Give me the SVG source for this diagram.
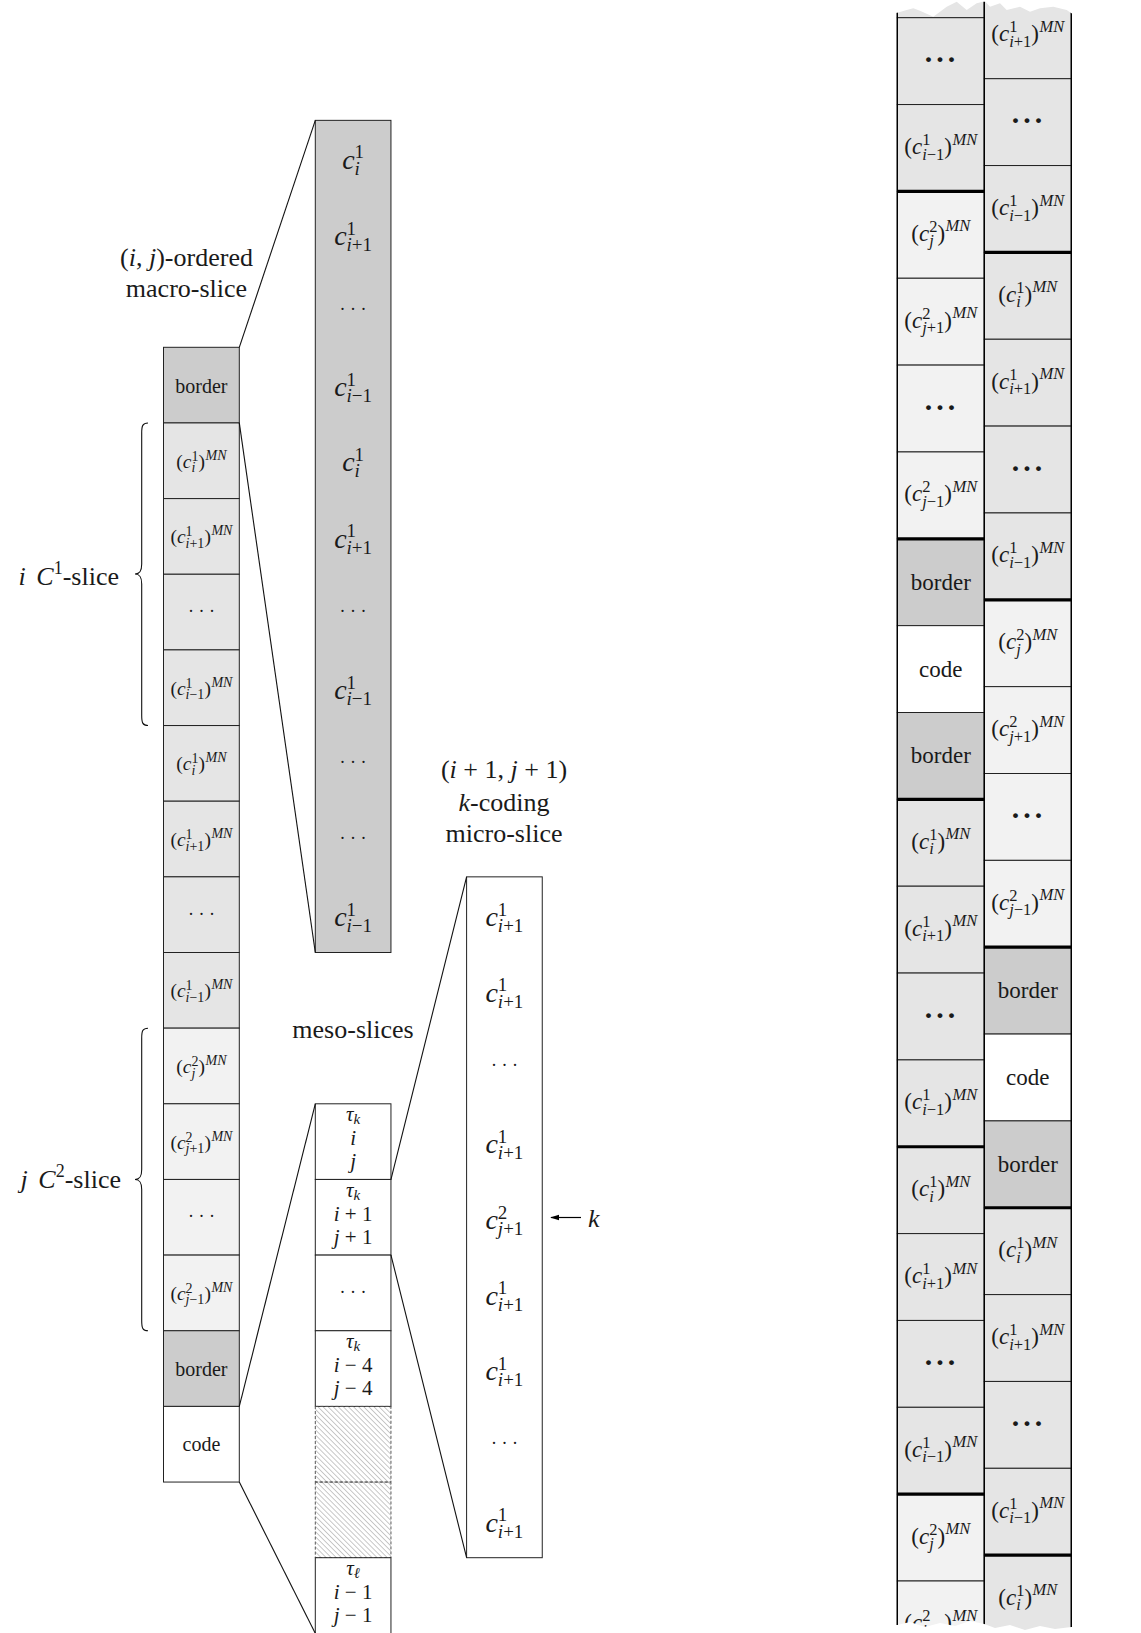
<svg xmlns="http://www.w3.org/2000/svg" width="1141" height="1633" viewBox="0 0 1141 1633">
<defs>
<style>
.t{font-family:"Liberation Serif","DejaVu Serif",serif;fill:#1a1a1a}
.m{text-anchor:middle}
.i{font-style:italic}
.f14{font-size:14px}.f15{font-size:15px}.f16{font-size:16.5px}.f18{font-size:18px}.f19{font-size:19.5px}.f20{font-size:20px}.f21{font-size:21px}.f23{font-size:23px}.f26{font-size:26px}.f27{font-size:28px}.fs{font-size:19px}
.cell{stroke:#222;stroke-width:1}
.g80{fill:#cccccc}.g90{fill:#e5e5e5}.g95{fill:#f2f2f2}.w{fill:#ffffff}
.conn{stroke:#111;stroke-width:1.1;fill:none}
.thick{stroke:#000;stroke-width:3.2}
.bd{font-weight:bold;font-size:30px;letter-spacing:1.5px}
</style>
<pattern id="hatch" patternUnits="userSpaceOnUse" width="3.6" height="3.6" patternTransform="rotate(-45)">
<line x1="0" y1="-1" x2="0" y2="5" stroke="#777" stroke-width="0.8"/>
</pattern>
<marker id="ah" viewBox="0 0 10 10" refX="9" refY="5" markerWidth="9" markerHeight="9" orient="auto" markerUnits="userSpaceOnUse">
<path d="M0,2 L10,5 L0,8 z" fill="#000"/>
</marker>
</defs>
<rect width="1141" height="1633" fill="#fff"/>

<!-- Left column (macro-slice sequence) -->
<g id="left-column">
<g id="lc-border-top"><rect class="cell g80" x="163.5" y="347.3" width="75.8" height="75.65"/><text class="t m f20" x="201.4" y="392.6">border</text></g>
<g id="lc-1"><rect class="cell g90" x="163.5" y="422.95" width="75.8" height="75.65"/><text class="t m f19" x="201.4" y="467.8">(<tspan class="i">c</tspan><tspan class="f14" dy="-7">1</tspan><tspan class="f14 i" dx="-7" dy="11.5">i</tspan><tspan dx="3.1" dy="-4.5">)</tspan><tspan class="f14 i" dx="0.5" dy="-8">MN</tspan></text></g>
<g id="lc-2"><rect class="cell g90" x="163.5" y="498.6" width="75.8" height="75.65"/><text class="t m f19" x="201.4" y="543.4">(<tspan class="i">c</tspan><tspan class="f14" dy="-7">1</tspan><tspan class="f14" dx="-7" dy="11.5"><tspan class="i">i</tspan>+1</tspan><tspan dy="-4.5">)</tspan><tspan class="f14 i" dx="0.5" dy="-8">MN</tspan></text></g>
<g id="lc-3"><rect class="cell g90" x="163.5" y="574.25" width="75.8" height="75.65"/><text class="t m f18" x="201.4" y="617">· · ·</text></g>
<g id="lc-4"><rect class="cell g90" x="163.5" y="649.9" width="75.8" height="75.65"/><text class="t m f19" x="201.4" y="694.7">(<tspan class="i">c</tspan><tspan class="f14" dy="-7">1</tspan><tspan class="f14" dx="-7" dy="11.5"><tspan class="i">i</tspan>−1</tspan><tspan dy="-4.5">)</tspan><tspan class="f14 i" dx="0.5" dy="-8">MN</tspan></text></g>
<g id="lc-5"><rect class="cell g90" x="163.5" y="725.55" width="75.8" height="75.65"/><text class="t m f19" x="201.4" y="770.4">(<tspan class="i">c</tspan><tspan class="f14" dy="-7">1</tspan><tspan class="f14 i" dx="-7" dy="11.5">i</tspan><tspan dx="3.1" dy="-4.5">)</tspan><tspan class="f14 i" dx="0.5" dy="-8">MN</tspan></text></g>
<g id="lc-6"><rect class="cell g90" x="163.5" y="801.2" width="75.8" height="75.65"/><text class="t m f19" x="201.4" y="846">(<tspan class="i">c</tspan><tspan class="f14" dy="-7">1</tspan><tspan class="f14" dx="-7" dy="11.5"><tspan class="i">i</tspan>+1</tspan><tspan dy="-4.5">)</tspan><tspan class="f14 i" dx="0.5" dy="-8">MN</tspan></text></g>
<g id="lc-7"><rect class="cell g90" x="163.5" y="876.85" width="75.8" height="75.65"/><text class="t m f18" x="201.4" y="919.7">· · ·</text></g>
<g id="lc-8"><rect class="cell g90" x="163.5" y="952.5" width="75.8" height="75.65"/><text class="t m f19" x="201.4" y="997.3">(<tspan class="i">c</tspan><tspan class="f14" dy="-7">1</tspan><tspan class="f14" dx="-7" dy="11.5"><tspan class="i">i</tspan>−1</tspan><tspan dy="-4.5">)</tspan><tspan class="f14 i" dx="0.5" dy="-8">MN</tspan></text></g>
<g id="lc-9"><rect class="cell g95" x="163.5" y="1028.15" width="75.8" height="75.65"/><text class="t m f19" x="201.4" y="1073">(<tspan class="i">c</tspan><tspan class="f14" dy="-7">2</tspan><tspan class="f14 i" dx="-7" dy="11.5">j</tspan><tspan dx="3.1" dy="-4.5">)</tspan><tspan class="f14 i" dx="0.5" dy="-8">MN</tspan></text></g>
<g id="lc-10"><rect class="cell g95" x="163.5" y="1103.8" width="75.8" height="75.65"/><text class="t m f19" x="201.4" y="1148.6">(<tspan class="i">c</tspan><tspan class="f14" dy="-7">2</tspan><tspan class="f14" dx="-7" dy="11.5"><tspan class="i">j</tspan>+1</tspan><tspan dy="-4.5">)</tspan><tspan class="f14 i" dx="0.5" dy="-8">MN</tspan></text></g>
<g id="lc-11"><rect class="cell g95" x="163.5" y="1179.45" width="75.8" height="75.65"/><text class="t m f18" x="201.4" y="1222.3">· · ·</text></g>
<g id="lc-12"><rect class="cell g95" x="163.5" y="1255.1" width="75.8" height="75.65"/><text class="t m f19" x="201.4" y="1299.9">(<tspan class="i">c</tspan><tspan class="f14" dy="-7">2</tspan><tspan class="f14" dx="-7" dy="11.5"><tspan class="i">j</tspan>−1</tspan><tspan dy="-4.5">)</tspan><tspan class="f14 i" dx="0.5" dy="-8">MN</tspan></text></g>
<g id="lc-border-bottom"><rect class="cell g80" x="163.5" y="1330.75" width="75.8" height="75.65"/><text class="t m f20" x="201.4" y="1376">border</text></g>
<g id="lc-code"><rect class="cell w" x="163.5" y="1406.4" width="75.8" height="75.65"/><text class="t m f20" x="201.4" y="1450.7">code</text></g>
</g>

<!-- Braces and their labels -->
<g id="brace-i">
<path class="conn" d="M148,423 C142.5,423 141.7,426 141.7,433 L141.7,564 C141.7,571 140,574 135,574 C140,574 141.7,577 141.7,584 L141.7,715.5 C141.7,722.5 142.5,725.5 148,725.5"/>
<text class="t f26" x="119" y="585" text-anchor="end"><tspan class="i">i</tspan> <tspan class="i" dx="4">C</tspan><tspan class="f18" dy="-11">1</tspan><tspan dy="11">-slice</tspan></text>
</g>
<g id="brace-j">
<path class="conn" d="M148,1028.2 C142.5,1028.2 141.7,1031.2 141.7,1038.2 L141.7,1169.5 C141.7,1176.5 140,1179.5 135,1179.5 C140,1179.5 141.7,1182.5 141.7,1189.5 L141.7,1320.8 C141.7,1327.8 142.5,1330.8 148,1330.8"/>
<text class="t f26" x="121" y="1188" text-anchor="end"><tspan class="i">j</tspan> <tspan class="i" dx="4">C</tspan><tspan class="f18" dy="-11">2</tspan><tspan dy="11">-slice</tspan></text>
</g>

<!-- Macro-slice expansion -->
<g id="macro-slice">
<rect class="cell g80" x="315.3" y="120.35" width="75.65" height="832.15"/>
<text class="t m f27" x="353.1" y="168.5"><tspan class="i">c</tspan><tspan class="fs" dy="-10.5">1</tspan><tspan class="fs i" dx="-9.5" dy="16.5">i</tspan></text>
<text class="t m f27" x="353.1" y="245"><tspan class="i">c</tspan><tspan class="fs" dy="-10.5">1</tspan><tspan class="fs" dx="-9.5" dy="16.5"><tspan class="i">i</tspan>+1</tspan></text>
<text class="t m f18" x="353.1" y="314.5">· · ·</text>
<text class="t m f27" x="353.1" y="396"><tspan class="i">c</tspan><tspan class="fs" dy="-10.5">1</tspan><tspan class="fs" dx="-9.5" dy="16.5"><tspan class="i">i</tspan>−1</tspan></text>
<text class="t m f27" x="353.1" y="471"><tspan class="i">c</tspan><tspan class="fs" dy="-10.5">1</tspan><tspan class="fs i" dx="-9.5" dy="16.5">i</tspan></text>
<text class="t m f27" x="353.1" y="547.5"><tspan class="i">c</tspan><tspan class="fs" dy="-10.5">1</tspan><tspan class="fs" dx="-9.5" dy="16.5"><tspan class="i">i</tspan>+1</tspan></text>
<text class="t m f18" x="353.1" y="617">· · ·</text>
<text class="t m f27" x="353.1" y="699"><tspan class="i">c</tspan><tspan class="fs" dy="-10.5">1</tspan><tspan class="fs" dx="-9.5" dy="16.5"><tspan class="i">i</tspan>−1</tspan></text>
<text class="t m f18" x="353.1" y="768.4">· · ·</text>
<text class="t m f18" x="353.1" y="844">· · ·</text>
<text class="t m f27" x="353.1" y="926"><tspan class="i">c</tspan><tspan class="fs" dy="-10.5">1</tspan><tspan class="fs" dx="-9.5" dy="16.5"><tspan class="i">i</tspan>−1</tspan></text>
</g>
<g id="label-macro">
<text class="t m f26" x="186.5" y="266">(<tspan class="i">i</tspan>, <tspan class="i">j</tspan>)-ordered</text>
<text class="t m f26" x="186.5" y="297">macro-slice</text>
</g>

<!-- Meso-slices -->
<g id="meso-slices">
<g id="meso-0"><rect class="cell w" x="315.3" y="1103.8" width="75.65" height="75.65"/>
<text class="t m f21" x="353.1" y="1121.3"><tspan class="i">τ</tspan><tspan class="f15 i" dy="3">k</tspan></text>
<text class="t m f21 i" x="353.1" y="1144.8">i</text>
<text class="t m f21 i" x="353.1" y="1167.8">j</text></g>
<g id="meso-1"><rect class="cell w" x="315.3" y="1179.45" width="75.65" height="75.65"/>
<text class="t m f21" x="353.1" y="1197"><tspan class="i">τ</tspan><tspan class="f15 i" dy="3">k</tspan></text>
<text class="t m f21" x="353.1" y="1220.5"><tspan class="i">i</tspan> + 1</text>
<text class="t m f21" x="353.1" y="1243.5"><tspan class="i">j</tspan> + 1</text></g>
<g id="meso-2"><rect class="cell w" x="315.3" y="1255.1" width="75.65" height="75.65"/>
<text class="t m f18" x="353.1" y="1297.5">· · ·</text></g>
<g id="meso-3"><rect class="cell w" x="315.3" y="1330.75" width="75.65" height="75.65"/>
<text class="t m f21" x="353.1" y="1348.3"><tspan class="i">τ</tspan><tspan class="f15 i" dy="3">k</tspan></text>
<text class="t m f21" x="353.1" y="1371.8"><tspan class="i">i</tspan> − 4</text>
<text class="t m f21" x="353.1" y="1394.8"><tspan class="i">j</tspan> − 4</text></g>
<g id="meso-4"><rect x="315.3" y="1406.4" width="75.65" height="75.65" fill="url(#hatch)" stroke="#555" stroke-width="1" stroke-dasharray="3 2"/></g>
<g id="meso-5"><rect x="315.3" y="1482.05" width="75.65" height="75.65" fill="url(#hatch)" stroke="#555" stroke-width="1" stroke-dasharray="3 2"/></g>
<g id="meso-6"><rect class="cell w" x="315.3" y="1557.7" width="75.65" height="80"/>
<text class="t m f21" x="353.1" y="1575.2"><tspan class="i">τ</tspan><tspan class="f15 i" dy="3">ℓ</tspan></text>
<text class="t m f21" x="353.1" y="1598.7"><tspan class="i">i</tspan> − 1</text>
<text class="t m f21" x="353.1" y="1621.7"><tspan class="i">j</tspan> − 1</text></g>
</g>
<g id="label-meso"><text class="t m f26" x="353" y="1037.5">meso-slices</text></g>

<!-- Micro-slice -->
<g id="micro-slice">
<rect class="cell w" x="466.6" y="876.85" width="75.65" height="680.85"/>
<text class="t m f27" x="504.4" y="926"><tspan class="i">c</tspan><tspan class="fs" dy="-10.5">1</tspan><tspan class="fs" dx="-9.5" dy="16.5"><tspan class="i">i</tspan>+1</tspan></text>
<text class="t m f27" x="504.4" y="1001.5"><tspan class="i">c</tspan><tspan class="fs" dy="-10.5">1</tspan><tspan class="fs" dx="-9.5" dy="16.5"><tspan class="i">i</tspan>+1</tspan></text>
<text class="t m f18" x="504.4" y="1070.5">· · ·</text>
<text class="t m f27" x="504.4" y="1153"><tspan class="i">c</tspan><tspan class="fs" dy="-10.5">1</tspan><tspan class="fs" dx="-9.5" dy="16.5"><tspan class="i">i</tspan>+1</tspan></text>
<text class="t m f27" x="504.4" y="1229"><tspan class="i">c</tspan><tspan class="fs" dy="-10.5">2</tspan><tspan class="fs" dx="-9.5" dy="16.5"><tspan class="i">j</tspan>+1</tspan></text>
<text class="t m f27" x="504.4" y="1304.5"><tspan class="i">c</tspan><tspan class="fs" dy="-10.5">1</tspan><tspan class="fs" dx="-9.5" dy="16.5"><tspan class="i">i</tspan>+1</tspan></text>
<text class="t m f27" x="504.4" y="1380"><tspan class="i">c</tspan><tspan class="fs" dy="-10.5">1</tspan><tspan class="fs" dx="-9.5" dy="16.5"><tspan class="i">i</tspan>+1</tspan></text>
<text class="t m f18" x="504.4" y="1448.5">· · ·</text>
<text class="t m f27" x="504.4" y="1531.5"><tspan class="i">c</tspan><tspan class="fs" dy="-10.5">1</tspan><tspan class="fs" dx="-9.5" dy="16.5"><tspan class="i">i</tspan>+1</tspan></text>
</g>
<g id="label-micro">
<text class="t m f26" x="504" y="778">(<tspan class="i">i</tspan> + 1, <tspan class="i">j</tspan> + 1)</text>
<text class="t m f26" x="504" y="811"><tspan class="i">k</tspan>-coding</text>
<text class="t m f26" x="504" y="841.5">micro-slice</text>
</g>
<g id="k-pointer">
<line x1="581" y1="1217.5" x2="551" y2="1217.5" stroke="#000" stroke-width="1.2" marker-end="url(#ah)"/>
<text class="t i f26" x="588" y="1227">k</text>
</g>

<!-- Zoom connectors -->
<g id="connectors">
<line class="conn" x1="239.3" y1="347.3" x2="315.3" y2="120.35"/>
<line class="conn" x1="239.3" y1="422.95" x2="315.3" y2="952.5"/>
<line class="conn" x1="239.3" y1="1406.4" x2="315.3" y2="1103.8"/>
<line class="conn" x1="239.3" y1="1482.05" x2="315.3" y2="1633.35"/>
<line class="conn" x1="390.95" y1="1179.45" x2="466.6" y2="876.85"/>
<line class="conn" x1="390.95" y1="1255.1" x2="466.6" y2="1557.7"/>
</g>

<!-- Right figure: two interleaved streams -->
<g id="stream-left">
<rect class="cell g90" x="897.3" y="-69.15" width="87" height="86.85"/>
<g id="sl-0"><rect class="cell g90" x="897.3" y="17.7" width="87" height="86.85"/><text class="t m bd" x="940.8" y="69">···</text></g>
<g id="sl-1"><rect class="cell g90" x="897.3" y="104.55" width="87" height="86.85"/><text class="t m f23" x="940.8" y="154">(<tspan class="i">c</tspan><tspan class="f16" dy="-9">1</tspan><tspan class="f16" dx="-8.25" dy="14.5"><tspan class="i">i</tspan>−1</tspan><tspan dy="-5.5">)</tspan><tspan class="f16 i" dx="0.5" dy="-9.5">MN</tspan></text></g>
<g id="sl-2"><rect class="cell g95" x="897.3" y="191.4" width="87" height="86.85"/><text class="t m f23" x="940.8" y="240.8">(<tspan class="i">c</tspan><tspan class="f16" dy="-9">2</tspan><tspan class="f16 i" dx="-8.25" dy="14.5">j</tspan><tspan dx="3.7" dy="-5.5">)</tspan><tspan class="f16 i" dx="0.5" dy="-9.5">MN</tspan></text></g>
<g id="sl-3"><rect class="cell g95" x="897.3" y="278.25" width="87" height="86.85"/><text class="t m f23" x="940.8" y="327.7">(<tspan class="i">c</tspan><tspan class="f16" dy="-9">2</tspan><tspan class="f16" dx="-8.25" dy="14.5"><tspan class="i">j</tspan>+1</tspan><tspan dy="-5.5">)</tspan><tspan class="f16 i" dx="0.5" dy="-9.5">MN</tspan></text></g>
<g id="sl-4"><rect class="cell g95" x="897.3" y="365.1" width="87" height="86.85"/><text class="t m bd" x="940.8" y="416.5">···</text></g>
<g id="sl-5"><rect class="cell g95" x="897.3" y="451.95" width="87" height="86.85"/><text class="t m f23" x="940.8" y="501.4">(<tspan class="i">c</tspan><tspan class="f16" dy="-9">2</tspan><tspan class="f16" dx="-8.25" dy="14.5"><tspan class="i">j</tspan>−1</tspan><tspan dy="-5.5">)</tspan><tspan class="f16 i" dx="0.5" dy="-9.5">MN</tspan></text></g>
<g id="sl-6"><rect class="cell g80" x="897.3" y="538.8" width="87" height="86.85"/><text class="t m f23" x="940.8" y="589.7">border</text></g>
<g id="sl-7"><rect class="cell w" x="897.3" y="625.65" width="87" height="86.85"/><text class="t m f23" x="940.8" y="676.6">code</text></g>
<g id="sl-8"><rect class="cell g80" x="897.3" y="712.5" width="87" height="86.85"/><text class="t m f23" x="940.8" y="763.4">border</text></g>
<g id="sl-9"><rect class="cell g90" x="897.3" y="799.35" width="87" height="86.85"/><text class="t m f23" x="940.8" y="848.8">(<tspan class="i">c</tspan><tspan class="f16" dy="-9">1</tspan><tspan class="f16 i" dx="-8.25" dy="14.5">i</tspan><tspan dx="3.7" dy="-5.5">)</tspan><tspan class="f16 i" dx="0.5" dy="-9.5">MN</tspan></text></g>
<g id="sl-10"><rect class="cell g90" x="897.3" y="886.2" width="87" height="86.85"/><text class="t m f23" x="940.8" y="935.6">(<tspan class="i">c</tspan><tspan class="f16" dy="-9">1</tspan><tspan class="f16" dx="-8.25" dy="14.5"><tspan class="i">i</tspan>+1</tspan><tspan dy="-5.5">)</tspan><tspan class="f16 i" dx="0.5" dy="-9.5">MN</tspan></text></g>
<g id="sl-11"><rect class="cell g90" x="897.3" y="973.05" width="87" height="86.85"/><text class="t m bd" x="940.8" y="1024.5">···</text></g>
<g id="sl-12"><rect class="cell g90" x="897.3" y="1059.9" width="87" height="86.85"/><text class="t m f23" x="940.8" y="1109.3">(<tspan class="i">c</tspan><tspan class="f16" dy="-9">1</tspan><tspan class="f16" dx="-8.25" dy="14.5"><tspan class="i">i</tspan>−1</tspan><tspan dy="-5.5">)</tspan><tspan class="f16 i" dx="0.5" dy="-9.5">MN</tspan></text></g>
<g id="sl-13"><rect class="cell g90" x="897.3" y="1146.75" width="87" height="86.85"/><text class="t m f23" x="940.8" y="1196.2">(<tspan class="i">c</tspan><tspan class="f16" dy="-9">1</tspan><tspan class="f16 i" dx="-8.25" dy="14.5">i</tspan><tspan dx="3.7" dy="-5.5">)</tspan><tspan class="f16 i" dx="0.5" dy="-9.5">MN</tspan></text></g>
<g id="sl-14"><rect class="cell g90" x="897.3" y="1233.6" width="87" height="86.85"/><text class="t m f23" x="940.8" y="1283">(<tspan class="i">c</tspan><tspan class="f16" dy="-9">1</tspan><tspan class="f16" dx="-8.25" dy="14.5"><tspan class="i">i</tspan>+1</tspan><tspan dy="-5.5">)</tspan><tspan class="f16 i" dx="0.5" dy="-9.5">MN</tspan></text></g>
<g id="sl-15"><rect class="cell g90" x="897.3" y="1320.45" width="87" height="86.85"/><text class="t m bd" x="940.8" y="1371.9">···</text></g>
<g id="sl-16"><rect class="cell g90" x="897.3" y="1407.3" width="87" height="86.85"/><text class="t m f23" x="940.8" y="1456.7">(<tspan class="i">c</tspan><tspan class="f16" dy="-9">1</tspan><tspan class="f16" dx="-8.25" dy="14.5"><tspan class="i">i</tspan>−1</tspan><tspan dy="-5.5">)</tspan><tspan class="f16 i" dx="0.5" dy="-9.5">MN</tspan></text></g>
<g id="sl-17"><rect class="cell g95" x="897.3" y="1494.15" width="87" height="86.85"/><text class="t m f23" x="940.8" y="1543.6">(<tspan class="i">c</tspan><tspan class="f16" dy="-9">2</tspan><tspan class="f16 i" dx="-8.25" dy="14.5">j</tspan><tspan dx="3.7" dy="-5.5">)</tspan><tspan class="f16 i" dx="0.5" dy="-9.5">MN</tspan></text></g>
<g id="sl-18"><rect class="cell g95" x="897.3" y="1581" width="87" height="86.85"/><text class="t m f23" x="940.8" y="1630.4">(<tspan class="i">c</tspan><tspan class="f16" dy="-9">2</tspan><tspan class="f16" dx="-8.25" dy="14.5"><tspan class="i">j</tspan>+1</tspan><tspan dy="-5.5">)</tspan><tspan class="f16 i" dx="0.5" dy="-9.5">MN</tspan></text></g>
</g>

<g id="stream-right">
<g id="sr-0"><rect class="cell g90" x="984.3" y="-8.15" width="87" height="86.85"/><text class="t m f23" x="1027.8" y="41.3">(<tspan class="i">c</tspan><tspan class="f16" dy="-9">1</tspan><tspan class="f16" dx="-8.25" dy="14.5"><tspan class="i">i</tspan>+1</tspan><tspan dy="-5.5">)</tspan><tspan class="f16 i" dx="0.5" dy="-9.5">MN</tspan></text></g>
<g id="sr-1"><rect class="cell g90" x="984.3" y="78.7" width="87" height="86.85"/><text class="t m bd" x="1027.8" y="130">···</text></g>
<g id="sr-2"><rect class="cell g90" x="984.3" y="165.55" width="87" height="86.85"/><text class="t m f23" x="1027.8" y="215">(<tspan class="i">c</tspan><tspan class="f16" dy="-9">1</tspan><tspan class="f16" dx="-8.25" dy="14.5"><tspan class="i">i</tspan>−1</tspan><tspan dy="-5.5">)</tspan><tspan class="f16 i" dx="0.5" dy="-9.5">MN</tspan></text></g>
<g id="sr-3"><rect class="cell g90" x="984.3" y="252.4" width="87" height="86.85"/><text class="t m f23" x="1027.8" y="301.8">(<tspan class="i">c</tspan><tspan class="f16" dy="-9">1</tspan><tspan class="f16 i" dx="-8.25" dy="14.5">i</tspan><tspan dx="3.7" dy="-5.5">)</tspan><tspan class="f16 i" dx="0.5" dy="-9.5">MN</tspan></text></g>
<g id="sr-4"><rect class="cell g90" x="984.3" y="339.25" width="87" height="86.85"/><text class="t m f23" x="1027.8" y="388.7">(<tspan class="i">c</tspan><tspan class="f16" dy="-9">1</tspan><tspan class="f16" dx="-8.25" dy="14.5"><tspan class="i">i</tspan>+1</tspan><tspan dy="-5.5">)</tspan><tspan class="f16 i" dx="0.5" dy="-9.5">MN</tspan></text></g>
<g id="sr-5"><rect class="cell g90" x="984.3" y="426.1" width="87" height="86.85"/><text class="t m bd" x="1027.8" y="477.5">···</text></g>
<g id="sr-6"><rect class="cell g90" x="984.3" y="512.95" width="87" height="86.85"/><text class="t m f23" x="1027.8" y="562.4">(<tspan class="i">c</tspan><tspan class="f16" dy="-9">1</tspan><tspan class="f16" dx="-8.25" dy="14.5"><tspan class="i">i</tspan>−1</tspan><tspan dy="-5.5">)</tspan><tspan class="f16 i" dx="0.5" dy="-9.5">MN</tspan></text></g>
<g id="sr-7"><rect class="cell g95" x="984.3" y="599.8" width="87" height="86.85"/><text class="t m f23" x="1027.8" y="649.2">(<tspan class="i">c</tspan><tspan class="f16" dy="-9">2</tspan><tspan class="f16 i" dx="-8.25" dy="14.5">j</tspan><tspan dx="3.7" dy="-5.5">)</tspan><tspan class="f16 i" dx="0.5" dy="-9.5">MN</tspan></text></g>
<g id="sr-8"><rect class="cell g95" x="984.3" y="686.65" width="87" height="86.85"/><text class="t m f23" x="1027.8" y="736.1">(<tspan class="i">c</tspan><tspan class="f16" dy="-9">2</tspan><tspan class="f16" dx="-8.25" dy="14.5"><tspan class="i">j</tspan>+1</tspan><tspan dy="-5.5">)</tspan><tspan class="f16 i" dx="0.5" dy="-9.5">MN</tspan></text></g>
<g id="sr-9"><rect class="cell g95" x="984.3" y="773.5" width="87" height="86.85"/><text class="t m bd" x="1027.8" y="824.9">···</text></g>
<g id="sr-10"><rect class="cell g95" x="984.3" y="860.35" width="87" height="86.85"/><text class="t m f23" x="1027.8" y="909.8">(<tspan class="i">c</tspan><tspan class="f16" dy="-9">2</tspan><tspan class="f16" dx="-8.25" dy="14.5"><tspan class="i">j</tspan>−1</tspan><tspan dy="-5.5">)</tspan><tspan class="f16 i" dx="0.5" dy="-9.5">MN</tspan></text></g>
<g id="sr-11"><rect class="cell g80" x="984.3" y="947.2" width="87" height="86.85"/><text class="t m f23" x="1027.8" y="998.1">border</text></g>
<g id="sr-12"><rect class="cell w" x="984.3" y="1034.05" width="87" height="86.85"/><text class="t m f23" x="1027.8" y="1085">code</text></g>
<g id="sr-13"><rect class="cell g80" x="984.3" y="1120.9" width="87" height="86.85"/><text class="t m f23" x="1027.8" y="1171.8">border</text></g>
<g id="sr-14"><rect class="cell g90" x="984.3" y="1207.75" width="87" height="86.85"/><text class="t m f23" x="1027.8" y="1257.2">(<tspan class="i">c</tspan><tspan class="f16" dy="-9">1</tspan><tspan class="f16 i" dx="-8.25" dy="14.5">i</tspan><tspan dx="3.7" dy="-5.5">)</tspan><tspan class="f16 i" dx="0.5" dy="-9.5">MN</tspan></text></g>
<g id="sr-15"><rect class="cell g90" x="984.3" y="1294.6" width="87" height="86.85"/><text class="t m f23" x="1027.8" y="1344">(<tspan class="i">c</tspan><tspan class="f16" dy="-9">1</tspan><tspan class="f16" dx="-8.25" dy="14.5"><tspan class="i">i</tspan>+1</tspan><tspan dy="-5.5">)</tspan><tspan class="f16 i" dx="0.5" dy="-9.5">MN</tspan></text></g>
<g id="sr-16"><rect class="cell g90" x="984.3" y="1381.45" width="87" height="86.85"/><text class="t m bd" x="1027.8" y="1432.9">···</text></g>
<g id="sr-17"><rect class="cell g90" x="984.3" y="1468.3" width="87" height="86.85"/><text class="t m f23" x="1027.8" y="1517.7">(<tspan class="i">c</tspan><tspan class="f16" dy="-9">1</tspan><tspan class="f16" dx="-8.25" dy="14.5"><tspan class="i">i</tspan>−1</tspan><tspan dy="-5.5">)</tspan><tspan class="f16 i" dx="0.5" dy="-9.5">MN</tspan></text></g>
<g id="sr-18"><rect class="cell g90" x="984.3" y="1555.15" width="87" height="86.85"/><text class="t m f23" x="1027.8" y="1604.6">(<tspan class="i">c</tspan><tspan class="f16" dy="-9">1</tspan><tspan class="f16 i" dx="-8.25" dy="14.5">i</tspan><tspan dx="3.7" dy="-5.5">)</tspan><tspan class="f16 i" dx="0.5" dy="-9.5">MN</tspan></text></g>
</g>

<g id="stream-separators">
<line class="thick" x1="897.3" y1="191.4" x2="984.3" y2="191.4"/>
<line class="thick" x1="897.3" y1="538.8" x2="984.3" y2="538.8"/>
<line class="thick" x1="897.3" y1="799.35" x2="984.3" y2="799.35"/>
<line class="thick" x1="897.3" y1="1146.75" x2="984.3" y2="1146.75"/>
<line class="thick" x1="897.3" y1="1494.15" x2="984.3" y2="1494.15"/>
<line class="thick" x1="984.3" y1="252.4" x2="1071.3" y2="252.4"/>
<line class="thick" x1="984.3" y1="599.8" x2="1071.3" y2="599.8"/>
<line class="thick" x1="984.3" y1="947.2" x2="1071.3" y2="947.2"/>
<line class="thick" x1="984.3" y1="1207.75" x2="1071.3" y2="1207.75"/>
<line class="thick" x1="984.3" y1="1555.15" x2="1071.3" y2="1555.15"/>
<line x1="897.3" y1="0" x2="897.3" y2="1633" stroke="#000" stroke-width="1.4"/>
<line x1="984.3" y1="0" x2="984.3" y2="1633" stroke="#000" stroke-width="1.4"/>
<line x1="1071.3" y1="0" x2="1071.3" y2="1633" stroke="#000" stroke-width="1.4"/>
</g>

<g id="torn-edges">
<polygon fill="#fff" points="885,-2 1086,-2 1086,14 1071.3,13.3 1066.7,10 1053.3,6.7 1040,8.3 1030,11.7 1020,6.7 1006.7,10 1000,3.3 990,6.7 985.5,1.7 983,1.7 976.7,3.3 966.7,10 956.7,1.7 946.7,6.7 933.3,16.7 920,10.7 913.3,8.3 906.7,10 897.3,12.7 885,14"/>
<polygon fill="#fff" points="885,1640 1086,1640 1086,1627 1071.3,1627 1055,1629 1040,1626 1025,1630 1010,1625 995,1628 984.3,1624 970,1621 955,1626 940,1623 925,1627 910,1622 897.3,1625 885,1625"/>
</g>
</svg>
